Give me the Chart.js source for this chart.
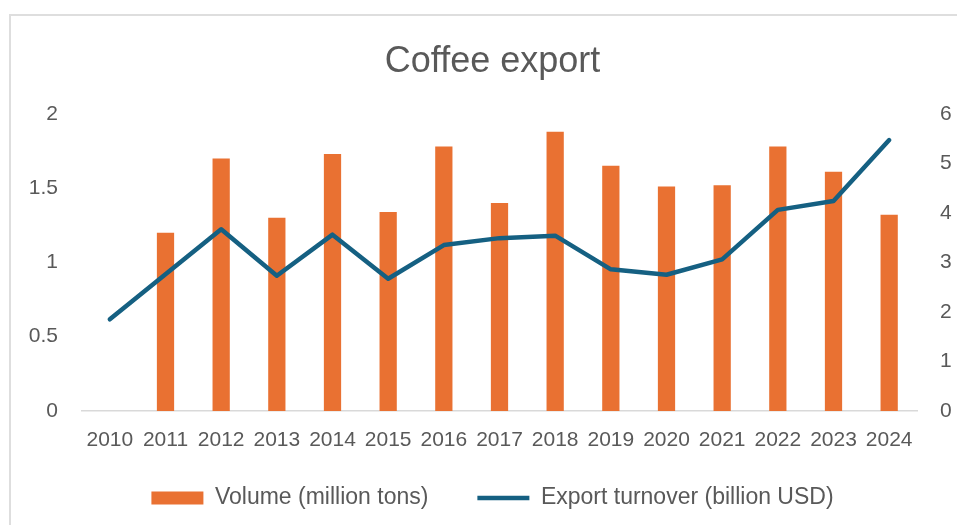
<!DOCTYPE html>
<html>
<head>
<meta charset="utf-8">
<script src="https://cdn.jsdelivr.net/npm/chart.js@4"></script>
<style>
  body { margin: 0; background: #fff; }
  #frame { position: absolute; left: 9px; top: 14px; width: 1000px; height: 600px;
           border-left: 2px solid #dedede; border-top: 2px solid #dedede; }
  #wrap { position: absolute; left: 0; top: 0; width: 957px; height: 525px; }
</style>
</head>
<body>
<div id="frame"></div>
<div id="wrap"><canvas id="chart"></canvas></div>
<script>
const years = ["2010", "2011", "2012", "2013", "2014", "2015", "2016", "2017",
  "2018", "2019", "2020", "2021", "2022", "2023", "2024"];
// million tons (2010 has no bar)
const volume = [null, 1.2, 1.7, 1.3, 1.73, 1.34, 1.78, 1.4, 1.88, 1.65, 1.51, 1.52, 1.78, 1.61, 1.32];
// billion USD
const turnover = [1.85, 2.76, 3.67, 2.73, 3.56, 2.67, 3.35, 3.49, 3.54, 2.86, 2.75, 3.06, 4.06, 4.24, 5.47];

const textColor = "#595959";
const font = "'Liberation Sans', Arial, sans-serif";

new Chart(document.getElementById("chart"), {
  type: "bar",
  data: {
    labels: years,
    datasets: [
      {
        type: "bar",
        label: "Volume (million tons)",
        data: volume,
        backgroundColor: "#E97132",
        borderWidth: 0,
        barPercentage: 0.31,
        categoryPercentage: 1,
        pointStyle: "rect",
        yAxisID: "y",
        order: 1
      },
      {
        type: "line",
        label: "Export turnover (billion USD)",
        data: turnover,
        borderColor: "#156082",
        backgroundColor: "#156082",
        borderWidth: 4.5,
        borderCapStyle: "round",
        borderJoinStyle: "round",
        pointRadius: 0,
        pointStyle: "line",
        tension: 0,
        yAxisID: "y1",
        order: 0
      }
    ]
  },
  options: {
    responsive: true,
    maintainAspectRatio: false,
    animation: false,
    layout: { padding: { left: 28, right: 0, top: 0, bottom: 5.5 } },
    plugins: {
      title: {
        display: true,
        text: "Coffee export",
        color: textColor,
        font: { family: font, size: 36, weight: "normal" },
        padding: { top: 40, bottom: 30.6 }
      },
      legend: {
        position: "bottom",
        labels: {
          color: textColor,
          font: { family: font, size: 23 },
          usePointStyle: true,
          pointStyleWidth: 52,
          boxHeight: 13,
          padding: 49,
          sort: (a, b) => a.datasetIndex - b.datasetIndex
        }
      },
      tooltip: { enabled: false }
    },
    scales: {
      x: {
        grid: { display: false, drawTicks: false },
        border: { display: true, color: "#d9d9d9", width: 1.5 },
        // mirrored + negative padding: labels sit below the axis line without being clipped
        ticks: { color: textColor, font: { family: font, size: 21 }, mirror: true, padding: -41.5, maxRotation: 0, autoSkip: false },
        afterFit: (scale) => { scale.height = 26.5; }
      },
      y: {
        position: "left",
        min: 0,
        max: 2,
        grid: { display: false, drawTicks: false },
        border: { display: false },
        ticks: { stepSize: 0.5, color: textColor, font: { family: font, size: 21 }, padding: 24,
                 callback: (v) => String(v) },
        afterFit: (scale) => { scale.width = 54; }
      },
      y1: {
        position: "right",
        min: 0,
        max: 6,
        grid: { display: false, drawTicks: false },
        border: { display: false },
        ticks: { stepSize: 1, color: textColor, font: { family: font, size: 21 }, padding: 23 },
        afterFit: (scale) => { scale.width = 40; }
      }
    }
  }
});
</script>
</body>
</html>
